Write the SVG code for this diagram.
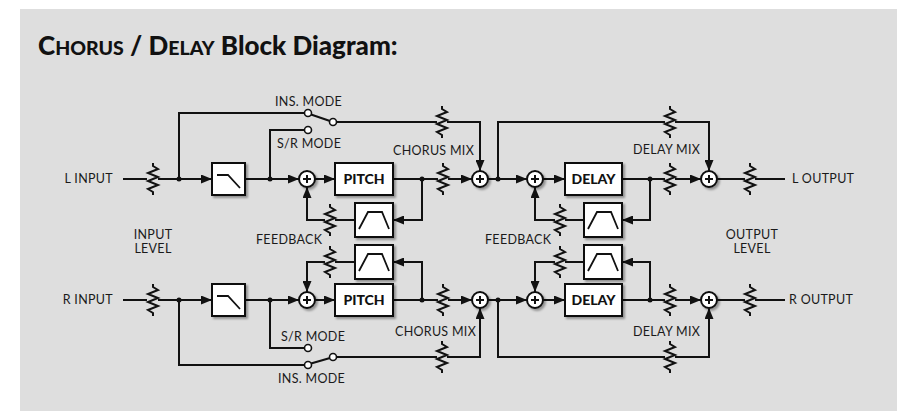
<svg xmlns="http://www.w3.org/2000/svg" width="897" height="411" viewBox="0 0 897 411">
<defs>
<style>
.ln{fill:none;stroke:#111;stroke-width:2;}
.ar{marker-end:url(#arr);}
.box{fill:#fff;stroke:#111;stroke-width:2;filter:url(#sh);}
.gl{fill:none;stroke:#111;stroke-width:1.8;}
.sum{fill:#fff;stroke:#111;stroke-width:2;filter:url(#sh);}
.ct{fill:#fff;stroke:#111;stroke-width:1.6;}
.dot{fill:#111;}
.lb{font-family:Lato,"Noto Sans","DejaVu Sans",sans-serif;font-size:12.5px;letter-spacing:0.3px;fill:#1a1a1a;}
.bl{font-family:Lato,"Liberation Sans",sans-serif;font-size:14px;font-weight:900;fill:#111;}
.tt{font-family:Lato,"Liberation Sans",sans-serif;font-weight:900;fill:#111;}
</style>
<filter id="sh" x="-30%" y="-30%" width="160%" height="160%">
<feDropShadow dx="2" dy="2" stdDeviation="1.2" flood-color="#000" flood-opacity="0.35"/>
</filter>
<marker id="arr" viewBox="0 0 11 9" refX="11" refY="4.5" markerWidth="11" markerHeight="9" orient="auto" markerUnits="userSpaceOnUse">
<path d="M0,0 L11,4.5 L0,9 z" fill="#111"/>
</marker>
<path id="res" class="ln" d="M0,-16 v3 l5,3 l-10,4 l10,4 l-10,4 l10,4 l-10,4 l5,3 v3"/>
<g id="plus"><circle r="8" class="sum"/><path d="M-4,0 H4 M0,-4 V4" class="ln"/></g>
</defs>

<rect x="0" y="0" width="897" height="411" fill="#fff"/>
<rect x="20" y="9" width="877" height="402" fill="#dedede"/>

<text x="38" y="55" class="tt" font-size="26">C<tspan font-size="19.5">HORUS</tspan> / D<tspan font-size="19.5">ELAY</tspan> Block Diagram:</text>

<g id="connectors">
<!-- L channel main path -->
<path class="ln" d="M123,179 H147"/>
<path class="ln ar" d="M158,179 H212"/>
<path class="ln ar" d="M245,179 H299"/>
<path class="ln ar" d="M315,179 H335"/>
<path class="ln" d="M393,179 H438"/>
<path class="ln ar" d="M448,179 H472"/>
<path class="ln ar" d="M488,179 H527"/>
<path class="ln ar" d="M543,179 H565"/>
<path class="ln" d="M622,179 H665"/>
<path class="ln ar" d="M675,179 H701"/>
<path class="ln" d="M717,179 H745"/>
<path class="ln" d="M755,179 H785"/>
<!-- L ins / sr -->
<path class="ln" d="M179,179 V113 H304.5"/>
<path class="ln" d="M311,114.5 L330,121"/>
<path class="ln" d="M336.5,122 H437"/>
<path class="ln ar" d="M447,122 H480 V171"/>
<path class="ln" d="M270,179 V130 H304.5"/>
<!-- L feedback -->
<path class="ln ar" d="M422,179 V220 H393"/>
<path class="ln" d="M355,220 H335"/>
<path class="ln ar" d="M325,220 H307 V187"/>
<path class="ln ar" d="M650,179 V220 H622"/>
<path class="ln" d="M584,220 H565"/>
<path class="ln ar" d="M555,220 H535 V187"/>
<!-- L delay mix -->
<path class="ln" d="M498,179 V122 H665"/>
<path class="ln ar" d="M675,122 H709 V171"/>

<!-- R channel main path -->
<path class="ln" d="M123,300 H147"/>
<path class="ln ar" d="M158,300 H212"/>
<path class="ln ar" d="M245,300 H299"/>
<path class="ln ar" d="M315,300 H335"/>
<path class="ln" d="M393,300 H438"/>
<path class="ln ar" d="M448,300 H472"/>
<path class="ln ar" d="M488,300 H527"/>
<path class="ln ar" d="M543,300 H565"/>
<path class="ln" d="M622,300 H665"/>
<path class="ln ar" d="M675,300 H701"/>
<path class="ln" d="M717,300 H745"/>
<path class="ln" d="M755,300 H785"/>
<!-- R ins / sr -->
<path class="ln" d="M179,300 V365 H304.5"/>
<path class="ln" d="M311,363.5 L330,358"/>
<path class="ln" d="M336.5,357 H437"/>
<path class="ln ar" d="M447,357 H480 V308"/>
<path class="ln" d="M270,300 V348 H304.5"/>
<!-- R feedback -->
<path class="ln ar" d="M422,300 V262 H393"/>
<path class="ln" d="M355,262 H335"/>
<path class="ln ar" d="M325,262 H307 V292"/>
<path class="ln ar" d="M650,300 V262 H622"/>
<path class="ln" d="M584,262 H565"/>
<path class="ln ar" d="M555,262 H535 V292"/>
<!-- R delay mix -->
<path class="ln" d="M498,300 V357 H665"/>
<path class="ln ar" d="M675,357 H709 V308"/>

<!-- junction dots -->
<circle class="dot" cx="179" cy="179" r="2.5"/>
<circle class="dot" cx="270" cy="179" r="2.5"/>
<circle class="dot" cx="422" cy="179" r="2.5"/>
<circle class="dot" cx="498" cy="179" r="2.5"/>
<circle class="dot" cx="650" cy="179" r="2.5"/>
<circle class="dot" cx="179" cy="300" r="2.5"/>
<circle class="dot" cx="270" cy="300" r="2.5"/>
<circle class="dot" cx="422" cy="300" r="2.5"/>
<circle class="dot" cx="498" cy="300" r="2.5"/>
<circle class="dot" cx="650" cy="300" r="2.5"/>
</g>

<!-- potentiometers -->
<g id="pot-in-l"><use href="#res" x="153" y="179"/></g>
<g id="pot-chorus-l"><use href="#res" x="443" y="179"/></g>
<g id="pot-chorusdry-l"><use href="#res" x="442" y="122"/></g>
<g id="pot-fb1-l"><use href="#res" x="330" y="220"/></g>
<g id="pot-fb2-l"><use href="#res" x="560" y="220"/></g>
<g id="pot-delay-l"><use href="#res" x="670" y="179"/></g>
<g id="pot-delaydry-l"><use href="#res" x="670" y="122"/></g>
<g id="pot-out-l"><use href="#res" x="750" y="179"/></g>
<g id="pot-in-r"><use href="#res" x="153" y="300"/></g>
<g id="pot-chorus-r"><use href="#res" x="443" y="300"/></g>
<g id="pot-chorusdry-r"><use href="#res" x="442" y="357"/></g>
<g id="pot-fb1-r"><use href="#res" x="330" y="262"/></g>
<g id="pot-fb2-r"><use href="#res" x="560" y="262"/></g>
<g id="pot-delay-r"><use href="#res" x="670" y="300"/></g>
<g id="pot-delaydry-r"><use href="#res" x="670" y="357"/></g>
<g id="pot-out-r"><use href="#res" x="750" y="300"/></g>

<!-- switch contacts -->
<g id="sw-l">
<circle class="ct" cx="308" cy="113" r="3.5"/>
<circle class="ct" cx="333" cy="122" r="3.5"/>
<circle class="ct" cx="308" cy="130" r="3.5"/>
</g>
<g id="sw-r">
<circle class="ct" cx="308" cy="365" r="3.5"/>
<circle class="ct" cx="333" cy="357" r="3.5"/>
<circle class="ct" cx="308" cy="348" r="3.5"/>
</g>

<!-- filter boxes -->
<g id="lpf-l"><rect class="box" x="212" y="163" width="33" height="32"/><path class="gl" d="M217,175 H228 L240,188"/></g>
<g id="lpf-r"><rect class="box" x="212" y="284" width="33" height="32"/><path class="gl" d="M217,296 H228 L240,309"/></g>
<g id="bpf1-l"><rect class="box" x="355" y="203" width="38" height="34"/><path class="gl" d="M359,229 L368,212 H382 L389,229"/></g>
<g id="bpf2-l"><rect class="box" x="584" y="203" width="38" height="34"/><path class="gl" d="M588,229 L597,212 H611 L618,229"/></g>
<g id="bpf1-r"><rect class="box" x="355" y="245" width="38" height="34"/><path class="gl" d="M359,271 L368,254 H382 L389,271"/></g>
<g id="bpf2-r"><rect class="box" x="584" y="245" width="38" height="34"/><path class="gl" d="M588,271 L597,254 H611 L618,271"/></g>

<!-- processing boxes -->
<g id="pitch-l"><rect class="box" x="335" y="163" width="58" height="32"/><text class="bl" x="364" y="184" text-anchor="middle">PITCH</text></g>
<g id="delay-l"><rect class="box" x="565" y="163" width="57" height="32"/><text class="bl" x="593.5" y="184" text-anchor="middle">DELAY</text></g>
<g id="pitch-r"><rect class="box" x="335" y="284" width="58" height="32"/><text class="bl" x="364" y="305" text-anchor="middle">PITCH</text></g>
<g id="delay-r"><rect class="box" x="565" y="284" width="57" height="32"/><text class="bl" x="593.5" y="305" text-anchor="middle">DELAY</text></g>

<!-- summing nodes -->
<g id="sum-fb1-l"><use href="#plus" x="307" y="179"/></g>
<g id="sum-chorus-l"><use href="#plus" x="480" y="179"/></g>
<g id="sum-fb2-l"><use href="#plus" x="535" y="179"/></g>
<g id="sum-delay-l"><use href="#plus" x="709" y="179"/></g>
<g id="sum-fb1-r"><use href="#plus" x="307" y="300"/></g>
<g id="sum-chorus-r"><use href="#plus" x="480" y="300"/></g>
<g id="sum-fb2-r"><use href="#plus" x="535" y="300"/></g>
<g id="sum-delay-r"><use href="#plus" x="709" y="300"/></g>

<!-- labels -->
<g id="labels">
<text class="lb" x="113" y="183" text-anchor="end">L INPUT</text>
<text class="lb" x="113" y="304" text-anchor="end">R INPUT</text>
<text class="lb" x="792" y="183">L OUTPUT</text>
<text class="lb" x="789" y="304">R OUTPUT</text>
<text class="lb" x="275" y="106">INS. MODE</text>
<text class="lb" x="277" y="148">S/R MODE</text>
<text class="lb" x="281" y="341">S/R MODE</text>
<text class="lb" x="278" y="383">INS. MODE</text>
<text class="lb" x="393" y="155">CHORUS MIX</text>
<text class="lb" x="395" y="336">CHORUS MIX</text>
<text class="lb" x="633" y="154">DELAY MIX</text>
<text class="lb" x="633" y="336">DELAY MIX</text>
<text class="lb" x="256" y="244">FEEDBACK</text>
<text class="lb" x="485" y="244">FEEDBACK</text>
<text class="lb" x="153" y="238.5" text-anchor="middle">INPUT</text>
<text class="lb" x="153" y="252.5" text-anchor="middle">LEVEL</text>
<text class="lb" x="752" y="238.5" text-anchor="middle">OUTPUT</text>
<text class="lb" x="752" y="252.5" text-anchor="middle">LEVEL</text>
</g>
</svg>
